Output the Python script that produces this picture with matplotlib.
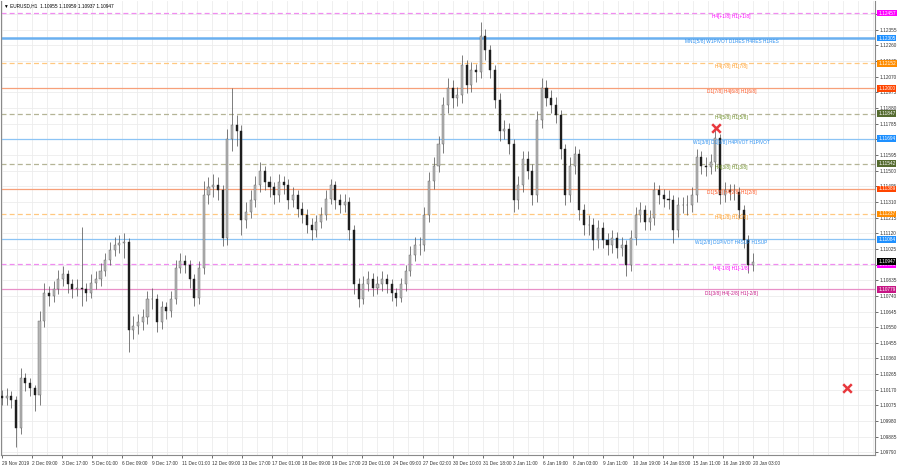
import numpy as np
import matplotlib
matplotlib.use("Agg")
import matplotlib.pyplot as plt
import matplotlib.transforms as mtransforms

# ---- data (H1 EURUSD, sampled every 5 bars) ----
first_open = 1.1013
closes = [1.1012, 1.1013, 1.1011, 1.0994, 1.1024, 1.1021, 1.1018, 1.1014, 1.1059, 1.1076,
          1.1074, 1.1078, 1.1084, 1.1087, 1.1081, 1.1078, 1.1079, 1.1078, 1.1076, 1.1082,
          1.1084, 1.1089, 1.1096, 1.1102, 1.1105, 1.1106, 1.1107, 1.1053, 1.1056, 1.1058,
          1.1061, 1.1072, 1.1072, 1.1058, 1.1067, 1.1065, 1.1072, 1.1091, 1.1095, 1.1093,
          1.1084, 1.1073, 1.1091, 1.1135, 1.1140, 1.1141, 1.1138, 1.1109, 1.1169, 1.1178,
          1.1174, 1.1120, 1.1125, 1.1132, 1.1141, 1.1150, 1.1143, 1.1140, 1.1135, 1.1143,
          1.1141, 1.1132, 1.1135, 1.1127, 1.1123, 1.1117, 1.1114, 1.1119, 1.1123, 1.1133,
          1.1141, 1.1132, 1.1129, 1.1131, 1.1114, 1.1081, 1.1072, 1.1081, 1.1084, 1.1079,
          1.1081, 1.1084, 1.1081, 1.1076, 1.1073, 1.1081, 1.1089, 1.1099, 1.1105, 1.1105,
          1.1123, 1.1144, 1.1153, 1.1166, 1.1190, 1.1200, 1.1194, 1.1196, 1.1214, 1.1202,
          1.1211, 1.1210, 1.1232, 1.1223, 1.1211, 1.1193, 1.1174, 1.1175, 1.1166, 1.1132,
          1.1141, 1.1157, 1.1150, 1.1135, 1.1181, 1.1200, 1.1194, 1.1190, 1.1184, 1.1163,
          1.1135, 1.1153, 1.1160, 1.1126, 1.1117, 1.1117, 1.1108, 1.1115, 1.1108, 1.1105,
          1.1109, 1.1103, 1.1105, 1.1093, 1.1109, 1.1123, 1.1126, 1.1119, 1.1121, 1.1138,
          1.1135, 1.1133, 1.1132, 1.1114, 1.1129, 1.1129, 1.1129, 1.1135, 1.1158, 1.1153,
          1.1152, 1.1155, 1.1170, 1.1135, 1.1138, 1.1137, 1.1137, 1.1126, 1.1108, 1.1093,
          1.10947]
highs = [1.1017, 1.1018, 1.1016, 1.1013, 1.1030, 1.1027, 1.1024, 1.1020, 1.1065, 1.1082,
         1.1080, 1.1083, 1.1090, 1.1092, 1.1090, 1.1084, 1.1084, 1.1116, 1.1082, 1.1087,
         1.1089, 1.1094, 1.1100, 1.1107, 1.1110, 1.1111, 1.1112, 1.1109, 1.1062, 1.1063,
         1.1066, 1.1077, 1.1079, 1.1075, 1.1071, 1.1070, 1.1077, 1.1096, 1.1100, 1.1099,
         1.1096, 1.1087, 1.1095, 1.1144, 1.1146, 1.1148, 1.1146, 1.1141, 1.1175, 1.1200,
         1.1184, 1.1178, 1.1131, 1.1138, 1.1147, 1.1155, 1.1153, 1.1147, 1.1143, 1.1148,
         1.1147, 1.1145, 1.1140, 1.1138, 1.1131, 1.1127, 1.1121, 1.1123, 1.1128, 1.1138,
         1.1145, 1.1144, 1.1136, 1.1136, 1.1134, 1.1117, 1.1085, 1.1086, 1.1089, 1.1088,
         1.1086, 1.1089, 1.1087, 1.1084, 1.1079, 1.1085, 1.1093, 1.1104, 1.1110, 1.1110,
         1.1128, 1.1149, 1.1158, 1.1171, 1.1195, 1.1206, 1.1205, 1.1201, 1.1220, 1.1217,
         1.1216, 1.1215, 1.1240, 1.1236, 1.1226, 1.1214, 1.1197, 1.1181, 1.1179, 1.1169,
         1.1147, 1.1162, 1.1162, 1.1154, 1.1186, 1.1206, 1.1205, 1.1199, 1.1195, 1.1187,
         1.1166, 1.1158, 1.1165, 1.1163, 1.1130, 1.1123, 1.1121, 1.1120, 1.1119, 1.1112,
         1.1114, 1.1113, 1.1110, 1.1108, 1.1114, 1.1128, 1.1131, 1.1129, 1.1126, 1.1143,
         1.1141, 1.1139, 1.1138, 1.1135, 1.1134, 1.1134, 1.1135, 1.1140, 1.1163, 1.1162,
         1.1158, 1.1160, 1.1175, 1.1172, 1.1143, 1.1142, 1.1142, 1.1140, 1.1129, 1.1111,
         1.1100]
lows = [1.1008, 1.1008, 1.1006, 1.0982, 1.0990, 1.1016, 1.1013, 1.1004, 1.1008, 1.1055,
        1.1068, 1.1070, 1.1075, 1.1080, 1.1076, 1.1073, 1.1074, 1.1068, 1.1071, 1.1073,
        1.1078, 1.1080, 1.1086, 1.1093, 1.1098, 1.1100, 1.1097, 1.1040, 1.1048, 1.1051,
        1.1053, 1.1057, 1.1066, 1.1052, 1.1054, 1.1060, 1.1061, 1.1069, 1.1088, 1.1088,
        1.1079, 1.1068, 1.1069, 1.1087, 1.1130, 1.1134, 1.1132, 1.1104, 1.1105, 1.1162,
        1.1165, 1.1111, 1.1115, 1.1121, 1.1128, 1.1137, 1.1138, 1.1134, 1.1130, 1.1131,
        1.1136, 1.1127, 1.1128, 1.1122, 1.1118, 1.1112, 1.1108, 1.1110, 1.1115, 1.1120,
        1.1130, 1.1127, 1.1124, 1.1125, 1.1108, 1.1075, 1.1067, 1.1069, 1.1077, 1.1074,
        1.1075, 1.1077, 1.1076, 1.1071, 1.1068, 1.1070, 1.1077, 1.1086, 1.1095, 1.1099,
        1.1101, 1.1119, 1.1139, 1.1149, 1.1161, 1.1185, 1.1188, 1.1189, 1.1191, 1.1197,
        1.1198, 1.1204, 1.1206, 1.1217, 1.1206, 1.1188, 1.1168, 1.1169, 1.1160, 1.1125,
        1.1127, 1.1137, 1.1145, 1.1129, 1.1131, 1.1176, 1.1189, 1.1185, 1.1179, 1.1157,
        1.1129, 1.1131, 1.1148, 1.1120, 1.1111, 1.1111, 1.1102, 1.1103, 1.1103, 1.1099,
        1.1100, 1.1097, 1.1098, 1.1086, 1.1089, 1.1105, 1.1119, 1.1114, 1.1114, 1.1117,
        1.1130, 1.1128, 1.1127, 1.1106, 1.1110, 1.1124, 1.1123, 1.1125, 1.1131, 1.1148,
        1.1147, 1.1148, 1.1150, 1.1130, 1.1131, 1.1132, 1.1132, 1.1121, 1.1103, 1.1088,
        1.1089]
bars_per_candle = 5

level_prices = [1.12457, 1.12305, 1.12152, 1.12000, 1.11847, 1.11694,
                1.11542, 1.11389, 1.11237, 1.11084, 1.10931, 1.10779]
level_labels = ["H4[+1/8] H1[+1/8]", "MN1[5/8] W1PIVOT D1RES H4RES H1RES",
                "H4[7/8] H1[7/8]", "D1[7/8] H4[6/8] H1[6/8]", "H4[5/8] H1[5/8]",
                "W1[3/8] D1[6/8] H4PIVOT H1PIVOT", "H4[3/8] H1[3/8]",
                "D1[5/8] H4[2/8] H1[2/8]", "H4[1/8] H1[1/8]",
                "W1[2/8] D1PIVOT H4SUP H1SUP", "H4[-1/8] H1[-1/8]",
                "D1[3/8] H4[-2/8] H1[-2/8]"]
level_line_colors = ["#f08cf0", "#6ab0f0", "#ffc880", "#f7a07a", "#b4b496", "#8cc4f5",
                     "#b4b496", "#f7a07a", "#ffc880", "#8cc4f5", "#f08cf0", "#e890c8"]
level_text_colors = ["#ff00ff", "#2a8ff0", "#ff9a20", "#ff5522", "#6b8e23", "#2a8ff0",
                     "#6b8e23", "#ff5522", "#ff9a20", "#2a8ff0", "#ff00ff", "#c71585"]
level_box_colors = ["#ff00ff", "#1e90ff", "#ff8c00", "#ff4500", "#556b2f", "#1e90ff",
                    "#556b2f", "#ff4500", "#ff8c00", "#1e90ff", "#ff00ff", "#c71585"]
level_dashed = [True, False, True, False, True, False, True, False, True, False, True, False]

signal_bars = [761, 900]
signal_prices = [1.11759, 1.10181]

time_labels = ["29 Nov 2019", "2 Dec 09:00", "3 Dec 17:00", "5 Dec 01:00", "6 Dec 09:00",
               "9 Dec 17:00", "11 Dec 01:00", "12 Dec 09:00", "13 Dec 17:00", "17 Dec 01:00",
               "18 Dec 09:00", "19 Dec 17:00", "23 Dec 01:00", "24 Dec 09:00", "27 Dec 02:00",
               "30 Dec 10:00", "31 Dec 18:00", "3 Jan 11:00", "6 Jan 19:00", "8 Jan 03:00",
               "9 Jan 11:00", "10 Jan 19:00", "14 Jan 03:00", "15 Jan 11:00", "16 Jan 19:00",
               "20 Jan 03:00"]
bars_per_label = 32
price_tick_start = 1.09790
price_tick_step = 0.00095
last_price = 1.10947
title = "EURUSD,H1  1.10955 1.10959 1.10937 1.10947"

plt.rcParams['font.family'] = ['Liberation Sans', 'DejaVu Sans']

# ---- figure ----
fig = plt.figure(figsize=(9, 4.7), dpi=100)
ax = fig.add_axes([0.0006, 0.0319, 0.9717, 0.966])
fs = 3.4

closes_a = np.array(closes)
opens_a = np.array([first_open] + closes[:-1])
x = np.arange(len(closes)) * bars_per_candle

ax.set_xlim(-1.5, 930)
ax.set_ylim(1.09774, 1.12530)

# grid
yt = np.arange(price_tick_start, 1.1253, price_tick_step)
for v in yt:
    ax.axhline(v, color="#ececec", lw=0.6, zorder=0)
for b in np.arange(0, 930, bars_per_label / 2):
    ax.axvline(b, color="#ececec", lw=0.6, zorder=0)

# level lines
for p, lc, d in zip(level_prices, level_line_colors, level_dashed):
    lw = 1.8 if p == 1.12305 else 0.9
    ax.axhline(p, color=lc, lw=lw, ls=(0, (4, 2.5)) if d else "-", zorder=1)

# candles
up = closes_a >= opens_a
ax.vlines(x, lows, highs, color="#5a5a5a", lw=0.55, zorder=3)
ax.bar(x[up], closes_a[up] - opens_a[up], bottom=opens_a[up], width=2.2,
       color="#b8b8b8", edgecolor="#606060", lw=0.3, zorder=4)
ax.bar(x[~up], closes_a[~up] - opens_a[~up], bottom=opens_a[~up], width=2.2,
       color="#1e1e1e", edgecolor="#1e1e1e", lw=0.3, zorder=4)

# level labels
for p, t, tc in zip(level_prices, level_labels, level_text_colors):
    ax.annotate(t, (777, p), xytext=(0, -0.8), textcoords="offset points",
                ha="center", va="top", fontsize=fs, color=tc, zorder=5)

# signal markers
ax.scatter(signal_bars, signal_prices, marker="x", s=38, color="#e8383d",
           linewidths=1.8, zorder=6)

# axes styling
ax.spines["top"].set_visible(False)
for s in ["left", "right", "bottom"]:
    ax.spines[s].set_color("#8a8a8a")
    ax.spines[s].set_linewidth(0.8)

ax.yaxis.tick_right()
ax.set_yticks(yt)
ax.set_yticklabels(["%.5f" % v for v in yt], fontsize=fs)
ax.tick_params(axis="y", length=2, pad=1.5, width=0.5, colors="#333333")

ax.set_xticks(np.arange(len(time_labels)) * bars_per_label)
ax.set_xticklabels(time_labels, fontsize=fs, ha="left")
ax.tick_params(axis="x", length=2, pad=2, width=0.5, colors="#333333")

# price boxes on the right axis
trans = mtransforms.blended_transform_factory(ax.transAxes, ax.transData)
for p, bc in zip(level_prices, level_box_colors):
    ax.text(1.0035, p, "%.5f" % p, transform=trans, fontsize=fs, color="white",
            va="center", ha="left", clip_on=False, zorder=7,
            bbox=dict(boxstyle="square,pad=0.2", fc=bc, ec="none"))
ax.text(1.0035, last_price, "%.5f" % last_price, transform=trans, fontsize=fs,
        color="white", va="center", ha="left", clip_on=False, zorder=8,
        bbox=dict(boxstyle="square,pad=0.2", fc="black", ec="none"))

ax.text(0.004, 0.996, "\u25BC " + title, transform=ax.transAxes, fontsize=fs,
        va="top", ha="left", color="black")

fig.savefig("out.png", dpi=100, facecolor="white")
